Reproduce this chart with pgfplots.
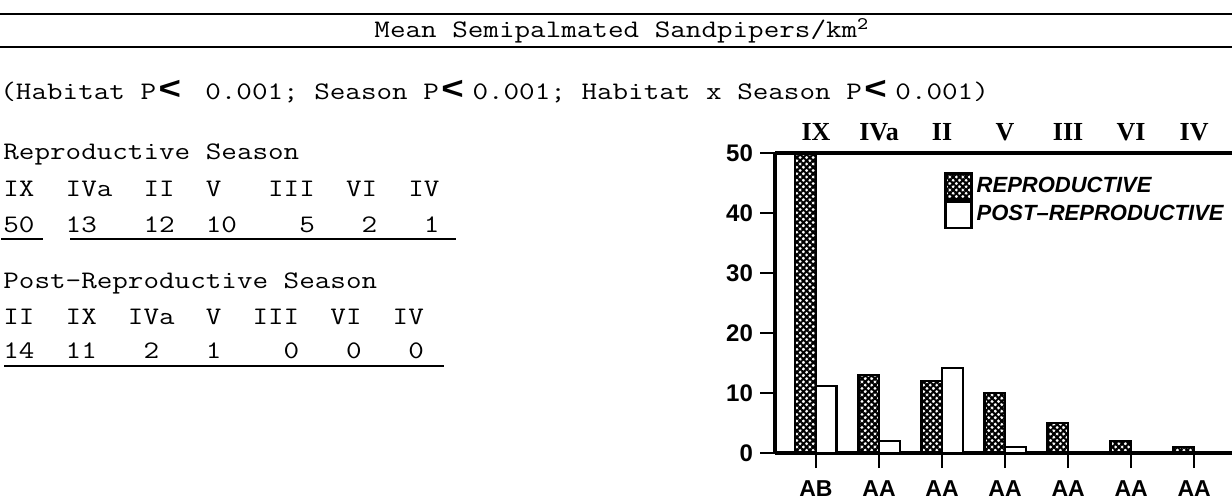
\documentclass[border=0pt]{standalone}
\usepackage{fontspec}
\usepackage{graphicx}
\usepackage{pgfplots}
\pgfplotsset{compat=1.18}
\usetikzlibrary{patterns.meta}
\newfontfamily\hv{Liberation Sans}
\newfontfamily\tms{Liberation Serif}
\newcommand\tw[1]{\scalebox{1.2}[1]{\fontsize{12.6}{14}\selectfont\ttfamily #1}}
\newcommand\lt{\kern1pt\makebox[13pt][l]{\hv\bfseries\fontsize{16}{16}\selectfont <}}
\begin{document}
\begin{tikzpicture}
\useasboundingbox (0pt,0pt) rectangle (616pt,249.5pt);
% title block
\draw[line width=1.1pt] (0pt,242.5pt) -- (616pt,242.5pt);
\draw[line width=1.1pt] (0pt,226pt) -- (616pt,226pt);
\node[anchor=base, inner sep=0pt] at (311pt,230.5pt) {\tw{Mean Semipalmated Sandpipers/km\textsuperscript{2}}};
\node[anchor=base west, inner sep=0pt] at (0pt,199.5pt) {\tw{(Habitat P\lt~0.001; Season P\lt0.001; Habitat x Season P\lt0.001)}};
% reproductive block
\node[anchor=base west, inner sep=0pt] at (1.5pt,169.5pt) {\tw{Reproductive Season}};
\node[anchor=base west, inner sep=0pt] at (1.5pt,151pt) {\tw{IX~~IVa~~II~~V~~~III~~VI~~IV}};
\node[anchor=base west, inner sep=0pt] at (1.5pt,133.5pt) {\tw{50~~13~~~12~~10~~~~5~~~2~~~1}};
\draw[line width=0.8pt] (0.5pt,130pt) -- (21.5pt,130pt);
\draw[line width=0.8pt] (35pt,130pt) -- (228pt,130pt);
% post-reproductive block
\node[anchor=base west, inner sep=0pt] at (1.5pt,105.5pt) {\tw{Post-Reproductive Season}};
\node[anchor=base west, inner sep=0pt] at (1.5pt,87.5pt) {\tw{II~~IX~~IVa~~V~~III~~VI~~IV}};
\node[anchor=base west, inner sep=0pt] at (1.5pt,70.5pt) {\tw{14~~11~~~2~~~1~~~~0~~~0~~~0}};
\draw[line width=0.8pt] (2pt,66.5pt) -- (222pt,66.5pt);
% chart
\begin{axis}[
  at={(387.5pt,23pt)}, anchor=south west,
  scale only axis, width=228.5pt, height=150pt,
  xmin=-0.65, xmax=6.6, ymin=0, ymax=50,
  clip=false,
  axis lines=left, axis line style={line width=1.8pt,-},
  ytick={0,10,20,30,40,50},
  xtick={0,1,2,3,4,5,6},
  xticklabels={AB,AA,AA,AA,AA,AA,AA},
  tick align=outside, major tick length=7.5pt,
  tick style={line width=1.3pt,black},
  yticklabel style={font=\hv\bfseries\fontsize{12}{12}\selectfont},
  xticklabel style={font=\hv\bfseries\fontsize{11.5}{12}\selectfont, yshift=-3pt},
  /pgf/number format/assume math mode=true,
  ybar=0pt, bar width=10.3pt,
  legend style={draw=none, fill=none, at={(0.37,0.937)}, anchor=north west,
    font=\hv\bfseries\itshape\fontsize{11}{12}\selectfont, inner sep=0pt, row sep=0pt},
  legend cell align=left,
  legend image code/.code={\draw[#1,line width=1.1pt] (0pt,-6.5pt) rectangle (13pt,6.5pt);},
]
\addplot[draw=black, line width=1.1pt, pattern color=black,
  pattern={Lines[angle=45,distance=2.3pt,line width=1.05pt]},
  postaction={pattern={Lines[angle=-45,distance=2.3pt,line width=1.05pt]}}]
  coordinates {(0,50) (1,13) (2,12) (3,10) (4,5) (5,2) (6,1)};
\addlegendentry{REPRODUCTIVE}
\addplot[draw=black, fill=white, line width=1.1pt]
  coordinates {(0,11.2) (1,2) (2,14.2) (3,1)};
\addlegendentry{POST\textendash REPRODUCTIVE}
\draw[line width=1.8pt] (rel axis cs:0,1) -- (rel axis cs:1,1);
\tikzset{toplab/.style={font=\tms\bfseries\fontsize{13}{13}\selectfont, anchor=base, yshift=6.5pt}}
\node[toplab] at (axis cs:0,50) {IX};
\node[toplab] at (axis cs:1,50) {IVa};
\node[toplab] at (axis cs:2,50) {II};
\node[toplab] at (axis cs:3,50) {V};
\node[toplab] at (axis cs:4,50) {III};
\node[toplab] at (axis cs:5,50) {VI};
\node[toplab] at (axis cs:6,50) {IV};
\end{axis}
\end{tikzpicture}
\end{document}
